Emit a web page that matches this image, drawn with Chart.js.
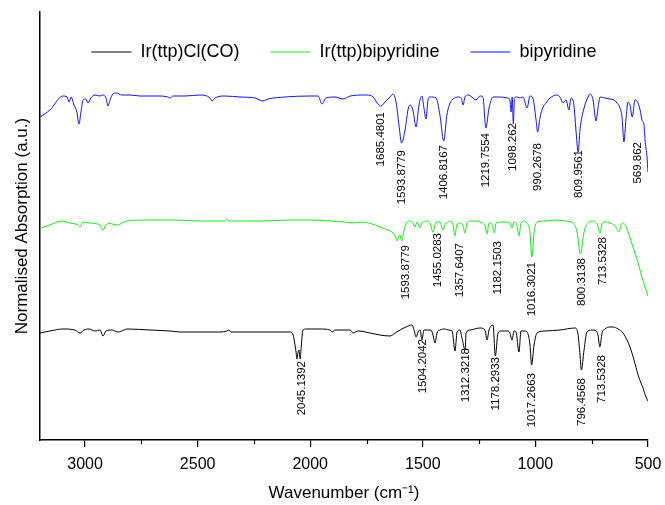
<!DOCTYPE html>
<html>
<head>
<meta charset="utf-8">
<script src="https://cdn.jsdelivr.net/npm/chart.js@4.4.1/dist/chart.umd.min.js"></script>
<style>
  body { margin: 0; background: #fff; }
</style>
</head>
<body>
<canvas id="grafica" width="665" height="505"></canvas>
<script>
// wavenumbers (cm-1) and normalised values
const bipyWn = [3200, 3156, 3098, 3080, 3071, 3062, 3049, 3036, 3027, 3018, 3009, 2996, 2987, 2974, 2956, 2934, 2920, 2907, 2898, 2889, 2876, 2862, 2836, 2800, 2756, 2667, 2632, 2623, 2609, 2556, 2489, 2445, 2436, 2423, 2378, 2312, 2245, 2210, 2187, 2112, 2001, 1965, 1948, 1930, 1890, 1854, 1823, 1757, 1726, 1699, 1685, 1668, 1646, 1632, 1619, 1606, 1594, 1579, 1566, 1557, 1544, 1530, 1517, 1504, 1495, 1486, 1477, 1468, 1441, 1424, 1407, 1393, 1379, 1366, 1344, 1330, 1321, 1313, 1299, 1282, 1264, 1246, 1233, 1220, 1206, 1188, 1157, 1122, 1113, 1108, 1103, 1098, 1093, 1082, 1068, 1055, 1037, 1024, 1011, 997, 990, 980, 966, 953, 935, 904, 891, 877, 864, 851, 842, 829, 820, 810, 802, 784, 766, 757, 744, 731, 722, 713, 691, 669, 651, 638, 624, 615, 607, 598, 589, 580, 570, 558, 549, 535, 527, 518, 513, 504, 500];
const bipyVal = [3.23, 3.30, 3.44, 3.43, 3.38, 3.43, 3.35, 3.28, 3.16, 3.28, 3.40, 3.41, 3.37, 3.42, 3.45, 3.44, 3.45, 3.42, 3.34, 3.40, 3.46, 3.47, 3.45, 3.45, 3.44, 3.44, 3.43, 3.42, 3.44, 3.44, 3.45, 3.42, 3.39, 3.42, 3.44, 3.43, 3.42, 3.39, 3.41, 3.43, 3.44, 3.44, 3.36, 3.42, 3.43, 3.41, 3.44, 3.45, 3.44, 3.36, 3.34, 3.38, 3.43, 3.46, 3.38, 3.15, 2.97, 3.10, 3.30, 3.35, 3.30, 3.13, 3.35, 3.44, 3.32, 3.21, 3.40, 3.43, 3.42, 3.25, 2.99, 3.25, 3.37, 3.41, 3.43, 3.42, 3.35, 3.43, 3.45, 3.43, 3.40, 3.44, 3.43, 3.12, 3.32, 3.43, 3.43, 3.42, 3.40, 3.28, 3.43, 3.16, 3.42, 3.43, 3.42, 3.43, 3.32, 3.44, 3.42, 3.20, 3.08, 3.22, 3.33, 3.37, 3.42, 3.45, 3.43, 3.37, 3.40, 3.30, 3.42, 3.35, 3.10, 2.88, 3.10, 3.32, 3.43, 3.46, 3.40, 3.19, 3.32, 3.43, 3.42, 3.41, 3.40, 3.37, 3.32, 3.22, 2.98, 3.20, 3.38, 3.35, 3.23, 3.40, 3.39, 3.30, 3.20, 3.15, 3.00, 2.82, 2.68];

const irBipyWn = [3200, 3156, 3102, 3067, 3031, 3022, 3009, 2978, 2934, 2920, 2907, 2898, 2880, 2854, 2836, 2814, 2711, 2600, 2489, 2378, 2370, 2361, 2223, 2090, 2001, 1912, 1845, 1810, 1770, 1712, 1668, 1632, 1623, 1615, 1606, 1601, 1594, 1583, 1570, 1557, 1544, 1535, 1526, 1512, 1504, 1481, 1468, 1455, 1441, 1424, 1410, 1401, 1393, 1379, 1366, 1358, 1348, 1335, 1321, 1313, 1304, 1290, 1268, 1246, 1224, 1215, 1206, 1193, 1182, 1175, 1157, 1135, 1113, 1104, 1095, 1082, 1073, 1064, 1051, 1037, 1024, 1016, 1006, 993, 957, 913, 869, 833, 815, 800, 784, 766, 749, 726, 713, 704, 691, 669, 646, 629, 620, 611, 598, 580, 562, 544, 527, 513, 500];
const irBipyVal = [2.12, 2.15, 2.19, 2.17, 2.15, 2.13, 2.18, 2.17, 2.15, 2.10, 2.15, 2.17, 2.16, 2.15, 2.17, 2.19, 2.20, 2.20, 2.19, 2.19, 2.21, 2.19, 2.19, 2.20, 2.20, 2.19, 2.18, 2.17, 2.18, 2.15, 2.11, 2.07, 2.04, 1.99, 2.04, 2.05, 1.99, 2.10, 2.18, 2.19, 2.17, 2.13, 2.18, 2.12, 2.17, 2.19, 2.17, 2.08, 2.18, 2.18, 2.10, 2.16, 2.17, 2.19, 2.16, 2.04, 2.16, 2.17, 2.14, 2.07, 2.16, 2.19, 2.19, 2.18, 2.15, 2.06, 2.17, 2.16, 2.07, 2.17, 2.18, 2.18, 2.17, 2.12, 2.18, 2.15, 2.04, 2.17, 2.19, 2.17, 2.07, 1.83, 2.07, 2.18, 2.19, 2.20, 2.19, 2.17, 2.08, 1.86, 2.08, 2.17, 2.19, 2.16, 2.07, 2.16, 2.18, 2.17, 2.14, 2.08, 2.15, 2.17, 2.14, 2.02, 1.90, 1.77, 1.63, 1.53, 1.44];

const irClWn = [3200, 3156, 3098, 3045, 3022, 3005, 2982, 2956, 2934, 2920, 2907, 2880, 2854, 2827, 2814, 2711, 2623, 2578, 2489, 2401, 2370, 2361, 2352, 2267, 2179, 2090, 2076, 2063, 2059, 2054, 2050, 2045, 2041, 2032, 2019, 1957, 1912, 1903, 1890, 1823, 1810, 1788, 1734, 1690, 1646, 1623, 1601, 1575, 1548, 1539, 1530, 1521, 1512, 1504, 1495, 1477, 1464, 1455, 1446, 1437, 1424, 1401, 1388, 1370, 1357, 1348, 1335, 1326, 1312, 1308, 1290, 1246, 1224, 1215, 1206, 1188, 1178, 1166, 1153, 1122, 1113, 1104, 1095, 1086, 1073, 1064, 1046, 1037, 1024, 1017, 1006, 993, 957, 891, 824, 811, 802, 796, 784, 771, 749, 731, 722, 714, 704, 691, 669, 655, 633, 611, 593, 580, 562, 544, 531, 522, 509, 500];
const irClVal = [1.07, 1.09, 1.11, 1.10, 1.07, 1.10, 1.11, 1.09, 1.10, 1.04, 1.09, 1.10, 1.08, 1.10, 1.11, 1.10, 1.09, 1.08, 1.08, 1.08, 1.09, 1.10, 1.08, 1.08, 1.08, 1.08, 1.05, 0.88, 0.81, 0.88, 0.90, 0.81, 0.90, 1.10, 1.11, 1.11, 1.10, 1.08, 1.10, 1.10, 1.07, 1.09, 1.07, 1.05, 1.04, 1.07, 1.10, 1.13, 1.15, 1.10, 1.03, 1.08, 1.10, 1.00, 1.10, 1.10, 1.10, 1.05, 0.97, 1.07, 1.10, 1.11, 1.10, 1.09, 0.89, 1.08, 1.10, 1.02, 0.90, 1.07, 1.10, 1.12, 1.10, 1.00, 1.10, 1.15, 0.84, 1.07, 1.09, 1.09, 1.07, 1.00, 1.09, 1.08, 0.88, 1.09, 1.09, 1.08, 0.95, 0.75, 0.95, 1.07, 1.09, 1.10, 1.12, 1.06, 0.85, 0.70, 0.90, 1.08, 1.10, 1.09, 1.05, 0.93, 1.07, 1.11, 1.13, 1.13, 1.11, 1.07, 1.00, 0.93, 0.80, 0.65, 0.57, 0.52, 0.43, 0.39];

// peak labels: text, where it sits (wavenumber) and the top of the text (value)
const bipyPeaks = ["1685.4801", "1593.8779", "1406.8167", "1219.7554", "1098.262", "990.2678", "809.9561", "569.862"];
const bipyPeakWn = [1686, 1592, 1406, 1219, 1099, 990, 807, 544];
const bipyPeakTop = [3.28, 2.90, 2.95, 3.07, 3.17, 2.97, 2.90, 2.98];

const irBipyPeaks = ["1593.8779", "1455.0283", "1357.6407", "1182.1503", "1016.3021", "800.3138", "713.5328"];
const irBipyPeakWn = [1575, 1432, 1335, 1166, 1015, 793, 700];
const irBipyPeakTop = [1.95, 2.07, 1.97, 1.99, 1.78, 1.82, 2.03];

const irClPeaks = ["2045.1392", "1504.2042", "1312.3218", "1178.2933", "1017.2663", "796.4568", "713.5328"];
const irClPeakWn = [2036, 1499, 1308, 1175, 1015, 793, 704];
const irClPeakTop = [0.79, 1.01, 0.92, 0.83, 0.67, 0.62, 0.85];

const xTicks = [3000, 2500, 2000, 1500, 1000, 500];
const xMinorTicks = [2750, 2250, 1750, 1250, 750];

Chart.defaults.font.family = "Arial, 'Liberation Sans', sans-serif";
Chart.defaults.color = "#000";

function puntos(wn, val) {
  return wn.map((x, i) => ({ x: x, y: val[i] }));
}

// the legend sits inside the plot, but in one row
const leyendaEnFila = {
  id: "leyendaEnFila",
  afterInit(chart) {
    if (chart.legend) {
      chart.legend.isHorizontal = () => true;
    }
  },
  afterLayout(chart) {
    const lg = chart.legend;
    if (lg) {
      lg.left = chart.chartArea.left;
      lg.right = chart.chartArea.right;
    }
  },
};

// vertical peak labels + minor ticks on the x axis
const etiquetasPlugin = {
  id: "etiquetas",
  afterDatasetsDraw(chart) {
    const ctx = chart.ctx;
    const xs = chart.scales.x;
    const ys = chart.scales.y;
    const grupos = [
      [bipyPeaks, bipyPeakWn, bipyPeakTop],
      [irBipyPeaks, irBipyPeakWn, irBipyPeakTop],
      [irClPeaks, irClPeakWn, irClPeakTop],
    ];
    ctx.save();
    ctx.fillStyle = "#000";
    ctx.font = "11.5px Arial, 'Liberation Sans', sans-serif";
    ctx.textAlign = "right";
    ctx.textBaseline = "middle";
    grupos.forEach(([textos, wns, tops]) => {
      textos.forEach((t, i) => {
        ctx.save();
        ctx.translate(xs.getPixelForValue(wns[i]), ys.getPixelForValue(tops[i]));
        ctx.rotate(-Math.PI / 2);
        ctx.fillText(t, 0, 0);
        ctx.restore();
      });
    });
    // minor ticks
    ctx.strokeStyle = "#000";
    ctx.lineWidth = 1.2;
    xMinorTicks.forEach((v) => {
      const px = Math.round(xs.getPixelForValue(v)) + 0.5;
      ctx.beginPath();
      ctx.moveTo(px, xs.top);
      ctx.lineTo(px, xs.top + 4);
      ctx.stroke();
    });
    ctx.restore();
  },
};

const config = {
  type: "line",
  data: {
    datasets: [
      { label: "Ir(ttp)Cl(CO)", data: puntos(irClWn, irClVal), borderColor: "#000000" },
      { label: "Ir(ttp)bipyridine", data: puntos(irBipyWn, irBipyVal), borderColor: "#11ee11" },
      { label: "bipyridine", data: puntos(bipyWn, bipyVal), borderColor: "#1010ff" },
    ],
  },
  options: {
    responsive: false,
    animation: false,
    parsing: false,
    elements: {
      point: { radius: 0 },
      line: { borderWidth: 1, cubicInterpolationMode: "monotone", fill: false },
    },
    layout: { padding: { top: 12, right: 17, left: 0, bottom: 0 } },
    plugins: {
      tooltip: { enabled: false },
      legend: {
        position: "chartArea",
        align: "center",
        labels: {
          font: { size: 18 },
          color: "#000",
          usePointStyle: true,
          pointStyle: "line",
          pointStyleWidth: 40,
          padding: 31,
        },
      },
    },
    scales: {
      x: {
        type: "linear",
        reverse: true,
        min: 500,
        max: 3200,
        afterBuildTicks: (scale) => {
          scale.ticks = xTicks.map((v) => ({ value: v }));
        },
        afterFit: (scale) => {
          scale.height = 65;
          scale.paddingLeft = 0;
          scale.paddingRight = 0;
        },
        ticks: {
          font: { size: 16 },
          color: "#000",
          padding: 8,
          maxRotation: 0,
          callback: (v) => String(v),
        },
        grid: {
          drawOnChartArea: false,
          drawTicks: true,
          tickLength: 7,
          color: "#000",
          lineWidth: 1.2,
        },
        border: { display: true, color: "#000", width: 1.5 },
        title: {
          display: true,
          text: "Wavenumber (cm\u207B\u00B9)",
          font: { size: 17 },
          color: "#000",
          padding: { top: 0, bottom: 1 },
        },
      },
      y: {
        min: 0,
        max: 4.28,
        afterFit: (scale) => {
          scale.width = 40;
        },
        ticks: { display: false },
        grid: { display: false },
        border: { display: true, color: "#000", width: 1.5 },
        title: {
          display: true,
          text: "Normalised Absorption (a.u.)",
          font: { size: 17 },
          color: "#000",
          padding: { top: 12, bottom: 0 },
        },
      },
    },
  },
  plugins: [leyendaEnFila, etiquetasPlugin],
};

new Chart(document.getElementById("grafica"), config);
</script>
</body>
</html>
